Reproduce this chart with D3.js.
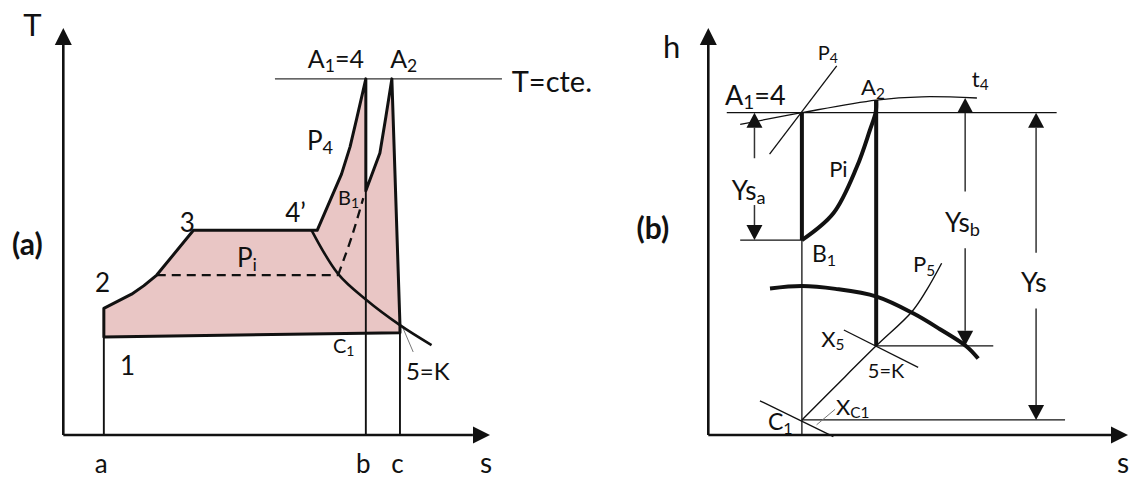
<!DOCTYPE html>
<html>
<head>
<meta charset="utf-8">
<script src="https://cdn.jsdelivr.net/npm/d3@7"></script>
<style>
  html, body { margin: 0; padding: 0; background: #fff; }
  svg { display: block; font-family: Lato, "Open Sans", sans-serif; }
</style>
</head>
<body>
<svg id="fig" width="1132" height="482"></svg>
<script>
// ---------- (a) T–s diagram: entropy s, temperature T (relative units) ----------
const tsCycle = [            // closed outline 1-2-3-4'-A1-B1-A2-K
  [9.5, 24.1],               // 1
  [9.5, 31.1],               // 2
  [16.0, 34.6],
  [18.9, 36.7],
  [21.9, 39.3],
  [30.5, 50.3],              // 3
  [59.5, 50.3],              // 4'
  [65.2, 64.1],
  [67.2, 70.8],
  [68.8, 77.9],
  [70.9, 87.5],              // A1 = 4
  [70.9, 60.0],              // B1
  [74.2, 69.3],
  [75.6, 78.2],
  [77.0, 87.5],              // A2
  [78.9, 27.0],              // 5 = K
  [78.9, 25.1]               // C1 level
];
const tsExpansion = [[58.2, 50.3], [64.4, 39.6], [70.9, 33.3], [78.9, 27.0], [86.3, 22.1]];
const tsDashedFlat = [[21.9, 39.3], [64.4, 39.3]];
const tsDashedRise = [[64.4, 39.3], [67.6, 48.7], [70.3, 58.2]];
const tsIsotherm = [[49.6, 87.5], [102.8, 87.5]];
const tsVerticals = [
  [[9.5, 0], [9.5, 24.1]],
  [[70.9, 0], [70.9, 60.0]],
  [[78.9, 0], [78.9, 25.1]]
];
const tsLeaderK = [[79.6, 26.3], [82.0, 20.4]];
const tsTickValues = [9.5, 70.9, 78.9];
const tsTickLabels = ["a", "b", "c"];
const tsLabels = [
  { t: "2", s: 7.4, v: 35.1, size: 26 },
  { t: "3", s: 27.3, v: 49.9, size: 26 },
  { t: "4’", s: 52.0, v: 52.3, size: 26 },
  { t: "P_{4}", s: 57.1, v: 70.0, size: 26 },
  { t: "A_{1}=4", s: 57.3, v: 90.2, size: 25 },
  { t: "A_{2}", s: 76.6, v: 90.2, size: 25 },
  { t: "T=cte.", s: 105.1, v: 84.3, size: 29 },
  { t: "B_{1}", s: 64.4, v: 56.5, size: 20 },
  { t: "P_{i}", s: 40.7, v: 41.3, size: 26 },
  { t: "1", s: 13.3, v: 14.7, size: 26 },
  { t: "C_{1}", s: 63.2, v: 20.1, size: 20 },
  { t: "5=K", s: 80.3, v: 13.5, size: 24 }
];

// ---------- (b) h–s diagram: entropy s, enthalpy h (relative units) ----------
const hsIsobarP4 = [[14.6, 69.0], [30.6, 90.7]];
const hsIsothermT4 = [[7.6, 76.3], [22.3, 79.2], [40.0, 82.3], [50.9, 83.1], [64.0, 82.8]];
const hsStageA = [[22.3, 79.2], [22.3, 47.9]];            // A1 -> B1
const hsStageB = [[40.0, 82.3], [40.0, 21.9]];            // A2 -> 5=K
const hsReheat = [[22.3, 47.9], [29.8, 54.5], [35.4, 65.9], [38.5, 74.9], [39.9, 79.4], [40.0, 82.3]];
const hsSaturation = [[14.7, 36.0], [22.3, 36.6], [30.3, 35.9], [40.1, 34.0], [48.8, 29.9], [55.2, 26.0], [61.6, 21.7], [64.3, 18.8]];
const hsIsobarP5 = [[22.3, 3.7], [31.1, 12.8], [40.0, 21.9], [48.5, 30.3], [52.0, 35.6], [55.6, 42.2]];
const hsQualityX5 = [[32.3, 25.8], [50.0, 16.6]];
const hsQualityXC1 = [[12.3, 8.4], [29.8, -0.4]];
const hsLeaderXC1 = [[25.8, 2.5], [30.2, 6.3]];
const hsLevels = [            // thin reference lines
  [[4.4, 79.2], [83.0, 79.2]],   // through A1
  [[7.6, 47.9], [22.3, 47.9]],   // through B1
  [[40.0, 21.9], [67.9, 21.9]],  // through 5=K
  [[22.3, 3.7], [85.0, 3.7]],    // through C1
  [[22.3, 0], [22.3, 47.9]]      // s of A1 below B1
];
const hsDrops = [             // dimension arrows with a gap for the label
  { s: 11.0, top: 79.2, bottom: 47.9, gapTop: 68.0, gapBottom: 56.5 },
  { s: 61.2, top: 82.8, bottom: 21.9, gapTop: 59.8, gapBottom: 45.9 },
  { s: 78.1, top: 79.2, bottom: 3.7, gapTop: 44.8, gapBottom: 31.1 }
];
const hsLabels = [
  { t: "P_{4}", s: 26.1, v: 92.1, size: 20 },
  { t: "A_{1}=4", s: 4.0, v: 81.1, size: 27 },
  { t: "A_{2}", s: 36.4, v: 83.5, size: 22 },
  { t: "t_{4}", s: 62.8, v: 85.5, size: 22 },
  { t: "Pi", s: 28.8, v: 63.4, size: 22 },
  { t: "Ys_{a}", s: 5.6, v: 57.7, size: 26 },
  { t: "B_{1}", s: 24.7, v: 42.5, size: 23 },
  { t: "Ys_{b}", s: 56.4, v: 49.9, size: 26 },
  { t: "Ys", s: 74.5, v: 35.1, size: 27 },
  { t: "P_{5}", s: 48.8, v: 40.0, size: 22 },
  { t: "X_{5}", s: 26.9, v: 21.6, size: 22 },
  { t: "5=K", s: 38.0, v: 14.0, size: 20 },
  { t: "X_{C1}", s: 30.4, v: 4.9, size: 22 },
  { t: "C_{1}", s: 14.2, v: 1.2, size: 23 }
];

// ---------- drawing ----------
const svg = d3.select("#fig");
const INK = "#111";

const xa = d3.scaleLinear().domain([0, 100]).range([63.3, 490]);
const ya = d3.scaleLinear().domain([0, 100]).range([435, 28]);
const xb = d3.scaleLinear().domain([0, 100]).range([708.3, 1128]);
const yb = d3.scaleLinear().domain([0, 100]).range([435, 28]);

// write "A_{1}=4" style strings as text with subscripts
function richText(sel, str) {
  const parts = str.split(/(_\{[^}]*\})/).filter(p => p.length);
  let afterSub = false;
  parts.forEach(p => {
    if (p.startsWith("_{")) {
      sel.append("tspan").attr("font-size", "0.7em").attr("dy", "0.22em").text(p.slice(2, -1));
      afterSub = true;
    } else {
      const t = sel.append("tspan").text(p);
      if (afterSub) { t.attr("dy", "-0.154em"); afterSub = false; }
    }
  });
}

function triangle(g, x, y, dir, w, l, color) {
  let pts;
  if (dir === "up") pts = [[x, y], [x - w / 2, y + l], [x + w / 2, y + l]];
  else if (dir === "down") pts = [[x, y], [x - w / 2, y - l], [x + w / 2, y - l]];
  else pts = [[x, y], [x - l, y - w / 2], [x - l, y + w / 2]];
  g.append("path").attr("d", "M" + pts.join("L") + "Z").attr("fill", color);
}

function panel(x, y) {
  const g = svg.append("g");
  const line = d3.line().x(d => x(d[0])).y(d => y(d[1]));
  const smooth = d3.line().x(d => x(d[0])).y(d => y(d[1])).curve(d3.curveCatmullRom.alpha(0.5));
  const stroke = (data, w, gen = line, color = INK, dash = null) =>
    g.append("path").attr("d", gen(data)).attr("fill", "none")
      .attr("stroke", color).attr("stroke-width", w)
      .attr("stroke-linejoin", "round").attr("stroke-dasharray", dash);
  const axes = () => {
    stroke([[0, 0], [0, 96]], 2.6);
    stroke([[0, 0], [96, 0]], 2.6);
    triangle(g, x(0), y(100), "up", 17, 17, INK);
    triangle(g, x(100), y(0), "right", 17, 17, INK);
  };
  const labels = list => list.forEach(d => {
    const t = g.append("text").attr("x", x(d.s)).attr("y", y(d.v))
      .attr("font-size", d.size).attr("fill", INK);
    richText(t, d.t);
  });
  return { g, line, smooth, stroke, axes, labels };
}

// ---- panel (a) ----
{
  const P = panel(xa, ya);
  const { g, stroke } = P;
  g.append("path").attr("d", P.line(tsCycle) + "Z").attr("fill", "#e9c6c5");
  tsVerticals.forEach(v => stroke(v, 1.9));
  stroke(tsIsotherm, 1.2, P.line, "#333");
  stroke(tsLeaderK, 1, P.line, "#777");
  stroke(tsDashedFlat, 2.3, P.line, INK, "9,6");
  stroke(tsDashedRise, 2.3, P.smooth, INK, "9,6");
  stroke(tsExpansion, 2.6, P.smooth);
  g.append("path").attr("d", P.line(tsCycle) + "Z").attr("fill", "none")
    .attr("stroke", INK).attr("stroke-width", 3).attr("stroke-linejoin", "round");
  P.axes();

  const axis = d3.axisBottom(xa).tickValues(tsTickValues)
    .tickFormat((d, i) => tsTickLabels[i]).tickSize(0).tickPadding(20);
  g.append("g").attr("transform", `translate(0,${ya(0)})`).call(axis)
    .call(a => a.select(".domain").remove())
    .attr("font-size", 26).attr("font-family", "Lato, sans-serif")
    .selectAll("text").attr("fill", INK).attr("dx", "-3");

  P.labels(tsLabels);
  g.append("text").attr("x", xa(99.1)).attr("y", 473).attr("text-anchor", "middle")
    .attr("font-size", 28).attr("fill", INK).text("s");
  g.append("text").attr("x", xa(-9.4)).attr("y", ya(98.0))
    .attr("font-size", 31).attr("fill", INK).text("T");
  g.append("text").attr("x", xa(-12.0)).attr("y", ya(44.2))
    .attr("font-size", 30).attr("font-weight", "bold").attr("fill", INK).text("(a)");
}

// ---- panel (b) ----
{
  const P = panel(xb, yb);
  const { g, stroke } = P;
  hsLevels.forEach(l => stroke(l, 1.3));
  stroke(hsIsobarP4, 1.3);
  stroke(hsIsothermT4, 1.3, P.smooth);
  stroke(hsQualityX5, 1.3);
  stroke(hsQualityXC1, 1.3);
  stroke(hsLeaderXC1, 1, P.line, "#777");
  stroke(hsIsobarP5, 1.4, P.smooth);
  stroke(hsStageA, 4);
  stroke(hsStageB, 4);
  stroke(hsReheat, 4, P.smooth);
  stroke(hsSaturation, 4, P.smooth);

  hsDrops.forEach(d => {
    const xs = xb(d.s);
    const headW = 16, headL = 15;
    g.append("line").attr("x1", xs).attr("x2", xs)
      .attr("y1", yb(d.top) + headL).attr("y2", yb(d.gapTop))
      .attr("stroke", "#333").attr("stroke-width", 1.5);
    g.append("line").attr("x1", xs).attr("x2", xs)
      .attr("y1", yb(d.gapBottom)).attr("y2", yb(d.bottom) - headL)
      .attr("stroke", "#333").attr("stroke-width", 1.5);
    triangle(g, xs, yb(d.top), "up", headW, headL, INK);
    triangle(g, xs, yb(d.bottom), "down", headW, headL, INK);
  });

  P.axes();
  P.labels(hsLabels);
  g.append("text").attr("x", xb(98.8)).attr("y", 473).attr("text-anchor", "middle")
    .attr("font-size", 28).attr("fill", INK).text("s");
  g.append("text").attr("x", xb(-10.8)).attr("y", yb(92.6))
    .attr("font-size", 31).attr("fill", INK).text("h");
  g.append("text").attr("x", xb(-17.1)).attr("y", yb(48.2))
    .attr("font-size", 30).attr("font-weight", "bold").attr("fill", INK).text("(b)");
}
</script>
</body>
</html>
